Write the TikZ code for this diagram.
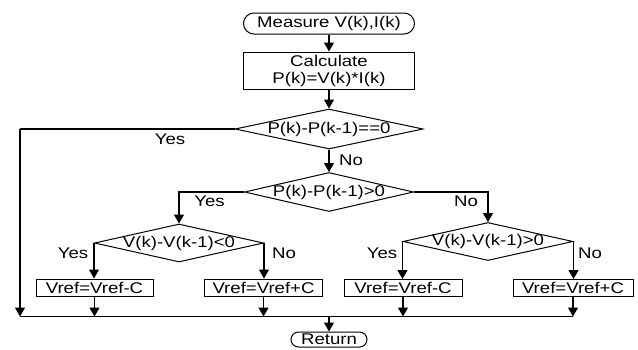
\documentclass[tikz,border=0pt]{standalone}
\usepackage{fontspec}
\setmainfont[FakeStretch=1.2]{Liberation Sans}
\usetikzlibrary{arrows.meta,shapes.geometric}
\begin{document}
\begin{tikzpicture}[x=1pt,y=-1pt,
  font=\fontsize{15.5}{17}\selectfont,
  base/.style={draw, line width=1pt, inner sep=0pt},
  term/.style={base, rectangle, rounded corners=#1},
  box/.style={base, rectangle},
  dia/.style={base, diamond},
  arr/.style={line width=1.2pt, -{Triangle[length=9pt,width=10pt]}},
  ln/.style={line width=1.2pt},
  lab/.style={inner sep=0pt}]
\useasboundingbox (0,0) rectangle (638,349);
% nodes
\node[term=10.5pt, minimum width=171, minimum height=21] (m) at (329,23.5) {Measure V(k),I(k)};
\node[box, minimum width=171, minimum height=37, align=center] (c) at (329,70.5) {Calculate\\P(k)=V(k)*I(k)};
\node[dia, minimum width=188, minimum height=40] (d1) at (329,129) {\makebox[0pt]{P(k)-P(k-1)==0}};
\node[dia, minimum width=169, minimum height=39] (d2) at (329,192) {\makebox[0pt]{P(k)-P(k-1)>0}};
\node[dia, minimum width=169, minimum height=38] (d3) at (179,243) {\makebox[0pt]{V(k)-V(k-1)<0}};
\node[dia, minimum width=170, minimum height=38] (d4) at (488,241.5) {\makebox[0pt]{V(k)-V(k-1)>0}};
\node[box, minimum width=117, minimum height=17] (b1) at (94.5,287.5) {Vref=Vref-C};
\node[box, minimum width=118, minimum height=17] (b2) at (263.5,287.5) {Vref=Vref+C};
\node[box, minimum width=118, minimum height=17] (b3) at (403,288) {Vref=Vref-C};
\node[box, minimum width=120, minimum height=17] (b4) at (573,288) {Vref=Vref+C};
\node[term=7.5pt, minimum width=76, minimum height=15] (r) at (329,339.5) {Return};
% coordinates
\coordinate (tl) at (20,129);
\coordinate (busL) at (20,316.5);
\coordinate (busR) at (573,316.5);
\coordinate (busM) at (329,316.5);
% labels
\node[lab] (y1) at (170,139) {Yes};
\node[lab] (n1) at (351,160) {No};
\node[lab] (y2) at (209.5,201) {Yes};
\node[lab] (n2) at (466,201) {No};
\node[lab] (y3) at (73,253) {Yes};
\node[lab] (n3) at (284,253) {No};
\node[lab] (y4) at (382,253) {Yes};
\node[lab] (n4) at (590,253) {No};
% connectors
\draw[arr] (m) -- (c);
\draw[arr] (c) -- (d1);
\draw[arr] (d1.south) -- (d2.north);
\draw[ln] (d1.west) -- (tl);
\draw[arr] (tl) -- (busL);
\draw[arr] (d2.west) -| (d3.north);
\draw[arr] (d2.east) -| (d4.north);
\draw[arr] (d3.west) -- (d3.west |- b1.north);
\draw[arr] (d3.east) -- (d3.east |- b2.north);
\draw[arr] (d4.west) -- (d4.west |- b3.north);
\draw[arr] (d4.east) -- (d4.east |- b4.north);
\draw[arr] (b1.south) -- (b1.south |- busL);
\draw[arr] (b2.south) -- (b2.south |- busL);
\draw[arr] (b3.south) -- (b3.south |- busL);
\draw[arr] (b4.south) -- (b4.south |- busL);
\draw[ln] (busL) -- (busR);
\draw[arr] (busM) -- (r.north);
\end{tikzpicture}
\end{document}
